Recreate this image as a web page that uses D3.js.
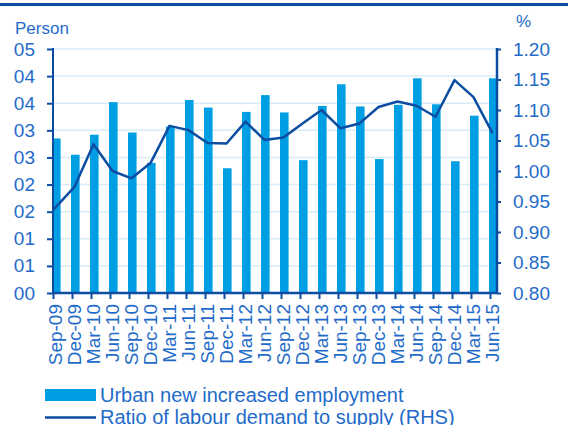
<!DOCTYPE html>
<html>
<head>
<meta charset="utf-8">
<script src="https://cdn.jsdelivr.net/npm/d3@7"></script>
<style>
  body { margin: 0; background: #fff; }
  text { font-family: "Liberation Sans", Arial, sans-serif; fill: #1f6bc9; }
</style>
</head>
<body>
<svg id="chart"></svg>
<script>
const categories = ["Sep-09", "Dec-09", "Mar-10", "Jun-10", "Sep-10", "Dec-10", "Mar-11", "Jun-11",
    "Sep-11", "Dec-11", "Mar-12", "Jun-12", "Sep-12", "Dec-12", "Mar-13", "Jun-13",
    "Sep-13", "Dec-13", "Mar-14", "Jun-14", "Sep-14", "Dec-14", "Mar-15", "Jun-15"];
const employment = [2.85, 2.55, 2.92, 3.52, 2.96, 2.40, 3.07, 3.56, 3.42, 2.30, 3.34, 3.65,
    3.33, 2.45, 3.45, 3.85, 3.44, 2.47, 3.47, 3.96, 3.48, 2.43, 3.27, 3.96];
const ratio = [0.936, 0.974, 1.044, 1.000, 0.988, 1.013, 1.074, 1.067, 1.046, 1.045, 1.081, 1.051,
    1.055, 1.078, 1.100, 1.070, 1.078, 1.105, 1.114, 1.107, 1.089, 1.149, 1.121, 1.062];
const leftTicks = [0, 0.5, 1, 1.5, 2, 2.5, 3, 3.5, 4, 4.5];
const leftTickLabels = ["00", "01", "01", "02", "02", "03", "03", "04", "04", "05"];
const rightTicks = [0.80, 0.85, 0.90, 0.95, 1.00, 1.05, 1.10, 1.15, 1.20];
const legendLabels = ["Urban new increased employment", "Ratio of labour demand to supply (RHS)"];

const W = 568, H = 425;
const plotL = 53, plotR = 497, plotT = 49, plotB = 293;
const dark = "#0d4da1", barColor = "#009fe3", gridColor = "#d6edf8";

const svg = d3.select("#chart").attr("width", W).attr("height", H);

const x = d3.scalePoint().domain(categories).range([plotL, 490]);
const yL = d3.scaleLinear().domain([0, 4.5]).range([plotB, plotT]);
const yR = d3.scaleLinear().domain([0.8, 1.2]).range([plotB, plotT]);

// top border
svg.append("rect").attr("x", 0).attr("y", 3).attr("width", W).attr("height", 3).attr("fill", "#0b4ea2");

// gridlines
svg.append("g")
    .selectAll("line")
    .data(leftTicks)
    .join("line")
        .attr("x1", plotL).attr("x2", plotR)
        .attr("y1", d => yL(d)).attr("y2", d => yL(d))
        .attr("stroke", gridColor).attr("stroke-width", 1.5);

svg.append("clipPath").attr("id", "plot")
    .append("rect").attr("x", plotL).attr("y", 0).attr("width", plotR - plotL).attr("height", plotB);

// bars
svg.append("g")
    .attr("clip-path", "url(#plot)")
    .selectAll("rect")
    .data(employment)
    .join("rect")
        .attr("x", (d, i) => x(categories[i]) - 1)
        .attr("width", 8.6)
        .attr("y", d => yL(d))
        .attr("height", d => plotB - yL(d))
        .attr("fill", barColor);

// line
const line = d3.line()
    .x((d, i) => i === 0 ? plotL : x(categories[i]) + 2.5)
    .y(d => yR(d));
svg.append("path")
    .datum(ratio)
    .attr("d", line)
    .attr("fill", "none")
    .attr("stroke", dark)
    .attr("stroke-width", 2.5)
    .attr("stroke-linejoin", "round");

// axes
const styleAxis = g => {
    g.select(".domain").remove();
    g.selectAll(".tick line").attr("stroke", dark).attr("stroke-width", 2);
    g.selectAll(".tick text").attr("fill", "#1f6bc9").attr("font-size", "19px")
        .attr("font-family", "Liberation Sans, Arial, sans-serif");
};

svg.append("g")
    .attr("transform", `translate(${plotL},0)`)
    .call(d3.axisLeft(yL).tickValues(leftTicks).tickFormat((d, i) => leftTickLabels[i]).tickSize(6).tickPadding(12))
    .call(styleAxis);

svg.append("g")
    .attr("transform", `translate(${plotR},0)`)
    .call(d3.axisRight(yR).tickValues(rightTicks).tickFormat(d3.format(".2f")).tickSize(4).tickPadding(12))
    .call(styleAxis);

svg.append("g")
    .attr("transform", `translate(0,${plotB})`)
    .call(d3.axisBottom(x).tickSize(6).tickFormat(""))
    .call(styleAxis);

svg.append("g")
    .selectAll("text")
    .data(categories)
    .join("text")
        .attr("transform", d => `translate(${x(d) + 9},304) rotate(-90)`)
        .attr("text-anchor", "end")
        .attr("font-size", "19px")
        .text(d => d);

// axis lines
svg.append("line").attr("x1", plotL).attr("x2", plotL).attr("y1", plotT - 1).attr("y2", plotB + 1)
    .attr("stroke", dark).attr("stroke-width", 2);
svg.append("line").attr("x1", plotR).attr("x2", plotR).attr("y1", plotT - 1).attr("y2", plotB + 1)
    .attr("stroke", dark).attr("stroke-width", 2.5);
svg.append("line").attr("x1", plotL).attr("x2", plotR).attr("y1", plotB).attr("y2", plotB)
    .attr("stroke", dark).attr("stroke-width", 2.5);

// units
svg.append("text").attr("x", 15).attr("y", 34).attr("font-size", "17px").text("Person");
svg.append("text").attr("x", 516).attr("y", 27).attr("font-size", "17px").text("%");

// legend
svg.append("rect").attr("x", 45).attr("y", 389).attr("width", 51).attr("height", 12).attr("fill", barColor);
svg.append("line").attr("x1", 45).attr("x2", 96).attr("y1", 417.5).attr("y2", 417.5)
    .attr("stroke", dark).attr("stroke-width", 2.5);
svg.append("g")
    .selectAll("text")
    .data(legendLabels)
    .join("text")
        .attr("x", 100)
        .attr("y", (d, i) => 402 + i * 21.7)
        .attr("font-size", "20px")
        .text(d => d);
</script>
</body>
</html>
